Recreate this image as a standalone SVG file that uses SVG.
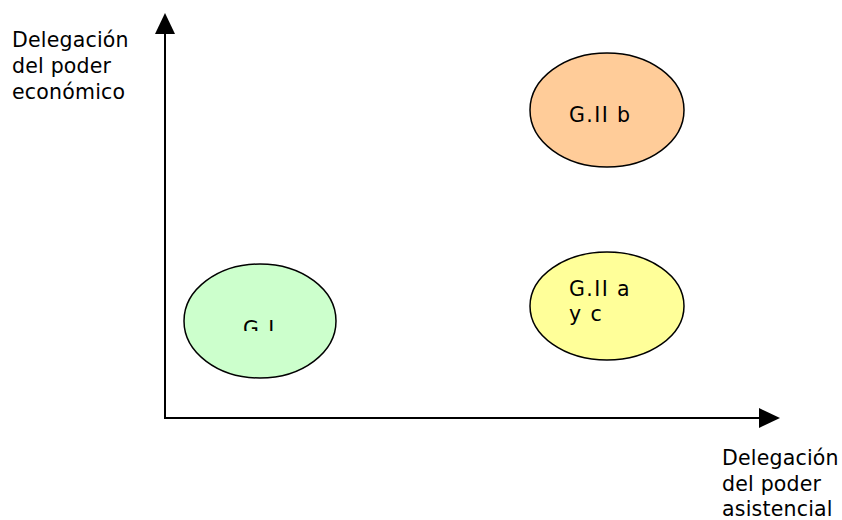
<svg xmlns="http://www.w3.org/2000/svg" width="842" height="520" viewBox="0 0 842 520">
<style>
text{font-family:"DejaVu Sans","Liberation Sans",sans-serif;font-size:20.5px;fill:#000;letter-spacing:0.2px}
text.lb{letter-spacing:1.4px}
.n{stroke:#000;stroke-width:1.5}
.ax{stroke:#000;stroke-width:2;fill:none}
</style>
<defs>
<clipPath id="cg"><rect x="180" y="260" width="160" height="71"/></clipPath>
</defs>
<rect width="842" height="520" fill="#fff"/>
<g id="connectors">
<line class="ax" x1="165" y1="419" x2="165" y2="30"/>
<polygon points="165,13 155,34 175,34" fill="#000"/>
<line class="ax" x1="164" y1="418" x2="762" y2="418"/>
<polygon points="780,418 759,408 759,428" fill="#000"/>
</g>
<g id="label-y">
<text x="12" y="47">Delegación</text>
<text x="12" y="73">del poder</text>
<text x="12" y="99">económico</text>
</g>
<g id="label-x">
<text x="722" y="465">Delegación</text>
<text x="722" y="491">del poder</text>
<text x="722" y="516">asistencial</text>
</g>
<g id="GI">
<ellipse class="n" cx="260" cy="321" rx="76" ry="57" fill="#ccffcc"/>
<text class="lb" x="243" y="336" clip-path="url(#cg)">G.I</text>
</g>
<g id="GIIb">
<ellipse class="n" cx="607" cy="110" rx="77" ry="57" fill="#ffcc99"/>
<text class="lb" x="569" y="122">G.II b</text>
</g>
<g id="GIIayc">
<ellipse class="n" cx="607" cy="306" rx="77" ry="54" fill="#ffff99"/>
<text class="lb" x="569" y="296">G.II a</text>
<text class="lb" x="569" y="321">y c</text>
</g>
</svg>
